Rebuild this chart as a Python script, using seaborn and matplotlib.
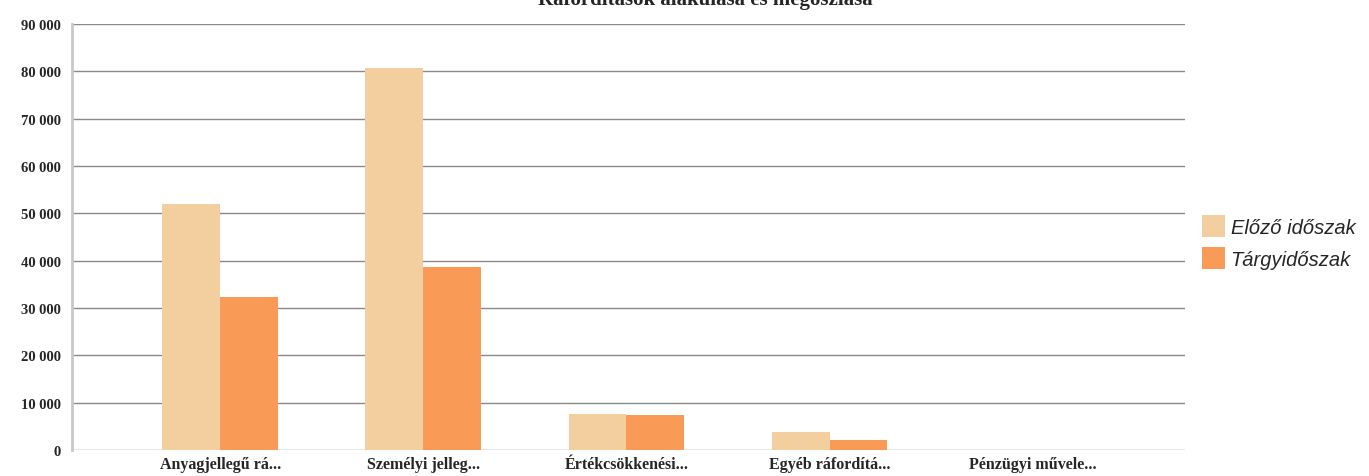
import pandas as pd
import seaborn as sns
import matplotlib.pyplot as plt
from matplotlib.patches import Patch
from matplotlib.ticker import FuncFormatter

categories = ['Anyagjellegű rá...', 'Személyi jelleg...', 'Értékcsökkenési...',
              'Egyéb ráfordítá...', 'Pénzügyi művele...']
series_names = ['Előző időszak', 'Tárgyidőszak']
elozo = [51900, 80700, 7600, 3900, 0]
targy = [32300, 38700, 7300, 2100, 0]
colors = ['#F3CFA0', '#F99B56']
title = 'Ráfordítások alakulása és megoszlása'

data = pd.DataFrame({
    'kategoria': categories * 2,
    'idoszak': [series_names[0]] * len(categories) + [series_names[1]] * len(categories),
    'ertek': elozo + targy,
})

sns.set_style('white')
plt.rcParams['font.family'] = ['Liberation Serif', 'DejaVu Serif']

fig = plt.figure(figsize=(13.69, 4.77), dpi=100)
ax = fig.add_axes([0.0526, 0.0545, 0.8130, 0.8931])

sns.barplot(data=data, x='kategoria', y='ertek', hue='idoszak', palette=colors,
            width=0.57, saturation=1, ax=ax, legend=False, zorder=3,
            linewidth=0, edgecolor='none')

ax.set_ylim(0, 90000)
ax.set_xlim(-0.73, 4.75)
ax.set_yticks(range(0, 90001, 10000))
ax.yaxis.set_major_formatter(FuncFormatter(lambda v, p: f'{int(v):,}'.replace(',', ' ')))
ax.grid(axis='y', color='#8a8a8a', linewidth=1.0, zorder=0)
ax.set_axisbelow(True)
ax.set_xlabel('')
ax.set_ylabel('')
for s in ['top', 'right', 'bottom']:
    ax.spines[s].set_visible(False)
ax.spines['left'].set_color('#c8c8c8')
ax.spines['left'].set_linewidth(2)
ax.tick_params(axis='y', length=5, color='#c8c8c8', pad=3)
ax.tick_params(axis='x', length=0, pad=4)
for lab in ax.get_yticklabels():
    lab.set_fontweight('bold')
    lab.set_fontsize(10.5)
for lab in ax.get_xticklabels():
    lab.set_fontweight('bold')
    lab.set_fontsize(11.5)

handles = [Patch(facecolor=c, edgecolor='none') for c in colors]
fig.legend(handles, series_names, loc='center left', bbox_to_anchor=(0.868, 0.49),
           frameon=False, handlelength=1.1, handleheight=1.3, handletextpad=0.3,
           labelspacing=0.5, borderpad=0.2,
           prop={'family': 'Liberation Sans', 'style': 'italic', 'size': 14.5})

fig.text(0.515, 1 - 5 / 477, title, ha='center', va='baseline', fontsize=15,
         fontweight='bold')

fig.savefig('out.png', dpi=100)
